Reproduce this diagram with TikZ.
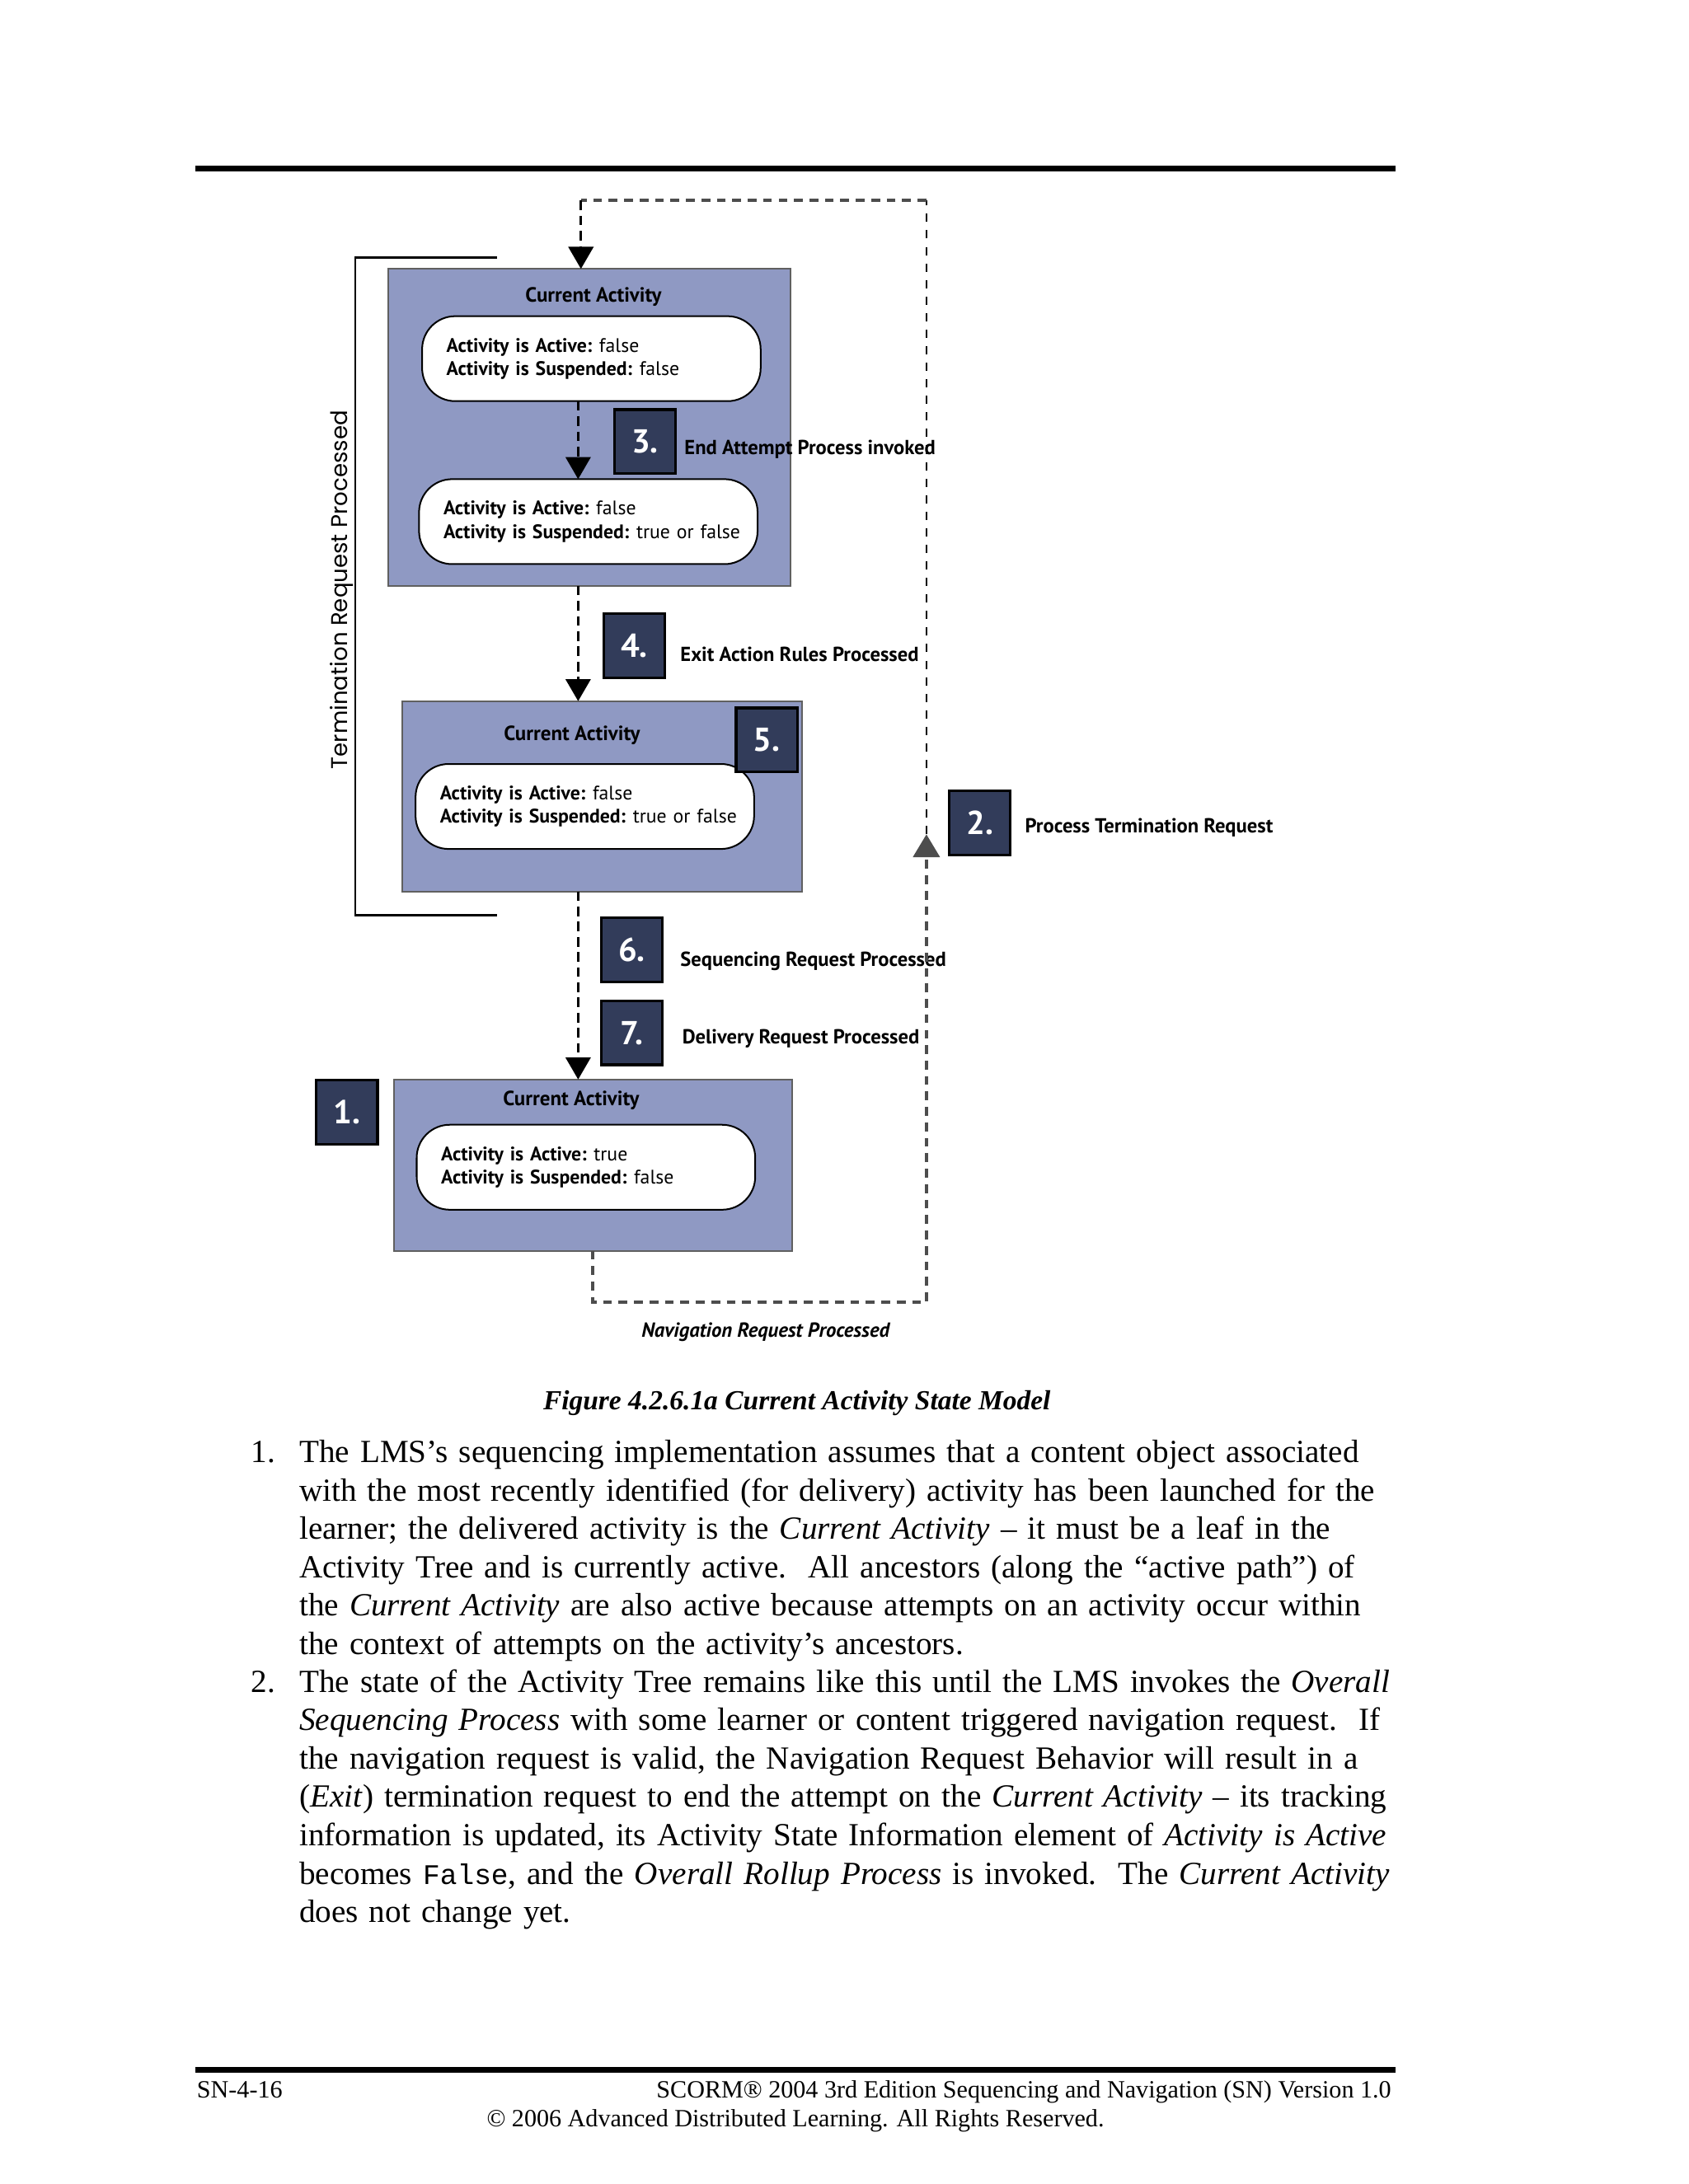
\documentclass[tikz,border=0pt]{standalone}
\usepackage{fontspec}
\setmainfont{Liberation Serif}
\setmonofont{Liberation Mono}
\newfontfamily\schema{PT Sans}
\newfontfamily\geo{Poppins}
\usetikzlibrary{arrows.meta}
\definecolor{fondboite}{HTML}{8F99C3}
\definecolor{marine}{HTML}{323C5A}
\definecolor{gristrait}{HTML}{4D4D4D}
\newcommand{\etat}[2]{\mbox{\textbf{Activity is Active:}\hspace{2.6pt}#1}\\\mbox{\textbf{Activity is Suspended:}\hspace{2.6pt}#2}}

\begin{document}
\begin{tikzpicture}[x=0.505pt,y=-0.505pt]
% Styles
\def\unite{0.505pt}
\tikzstyle{boite}=[draw=gray!75!black,line width=0.6pt,fill=fondboite,inner sep=0,outer sep=0]
\tikzstyle{pilule}=[draw=black,line width=0.6pt,fill=white,rounded corners=12pt,minimum width=243*\unite,minimum height=61*\unite,text width=105pt,inner xsep=8.8pt,inner ysep=0,outer sep=0,align=left,font=\schema\fontsize{7.1}{8.4}\selectfont]
\tikzstyle{titre}=[anchor=base,inner sep=0,font=\schema\bfseries\fontsize{7.45}{8}\selectfont]
\tikzstyle{badge}=[draw=black,line width=1pt,fill=marine,text=white,minimum width=44*\unite,minimum height=46*\unite,inner sep=0,font=\schema\bfseries\fontsize{12}{12}\selectfont]
\tikzstyle{etiquette}=[anchor=base west,inner sep=0,font=\schema\bfseries\fontsize{7.35}{8}\selectfont]
\tikzstyle{pointille}=[dash pattern=on 3.5pt off 2pt,line width=1pt]
\tikzstyle{fleche}=[-{Triangle[width=9pt,length=8pt]}]
\tikzstyle{boucle}=[gristrait,dash pattern=on 3.2pt off 2.4pt,line width=1.2pt]
\tikzstyle{boucleFine}=[dash pattern=on 3pt off 3pt,line width=0.5pt]
\tikzstyle{texte}=[anchor=base west,inner sep=0,text width=410pt,align=left,font=\fontsize{11.7}{13.9}\selectfont]
\tikzstyle{pied}=[inner sep=0,font=\fontsize{9}{11}\selectfont]
% Page
\fill[white] (0,0) rectangle (1212,1568);
\useasboundingbox (0,0) rectangle (1212,1568);
\draw[line width=2.2pt] (140,121) -- (1002,121);
\draw[line width=2.2pt] (140,1486) -- (1002,1486);
% Boites
\node[boite,minimum width=288.5*\unite,minimum height=227.5*\unite] (A) at (423.2,306.8) {};
\node[boite,minimum width=287*\unite,minimum height=136.6*\unite] (B) at (432.5,571.7) {};
\node[boite,minimum width=286*\unite,minimum height=123*\unite] (C) at (425.6,836.5) {};
\node[titre] (tA) at (426,217) {Current Activity};
\node[titre] (tB) at (410.6,531.5) {Current Activity};
\node[titre] (tC) at (410,794) {Current Activity};
% Etats
\node[pilule] (pA1) at (424.5,257.5) {\etat{false}{false}};
\node[pilule] (pA2) at (422.3,374.5) {\etat{false}{true or false}};
\node[pilule] (pB) at (419.8,579) {\etat{false}{true or false}};
\node[pilule] (pC) at (420.6,838) {\etat{true}{false}};
% Accolade
\draw[line width=0.7pt] (356.6,185) -- (255,185) -- (255,657) -- (356.6,657);
\node[rotate=90,inner sep=0,font=\geo\fontsize{8.25}{10}\selectfont] (term) at (245.5,423.5) {Termination Request Processed};
% Etapes
\node[badge] (b1) at (249,798.5) {1.};
\node[badge] (b2) at (703.3,590.8) {2.};
\node[badge] (b3) at (463,317) {3.};
\node[badge] (b4) at (455.3,463.5) {4.};
\node[badge] (b5) at (550.4,531.2) {5.};
\node[badge] (b6) at (453.5,682) {6.};
\node[badge] (b7) at (453.5,741.5) {7.};
\node[etiquette] (e2) at (735.4,597.7) {Process Termination Request};
\node[etiquette] (e3) at (491,326.5) {End Attempt Process invoked};
\node[etiquette] (e4) at (488,475) {Exit Action Rules Processed};
\node[etiquette] (e6) at (488,693.5) {Sequencing Request Processed};
\node[etiquette] (e7) at (489.4,749.5) {Delivery Request Processed};
\node[etiquette,anchor=base,font=\schema\bfseries\itshape\fontsize{7.4}{8}\selectfont] (nav) at (549.5,960) {Navigation Request Processed};
% Fleches
\coordinate (axe) at (415,0);
\coordinate (coinBD) at (665,935);
\coordinate (pointe) at (665,599);
\coordinate (coinHD) at (665,144);
\coordinate (coinHG) at (417,144);
\draw[pointille,fleche] (pA1.south -| axe) -- (pA2.north -| axe);
\draw[pointille,fleche] (A.south -| axe) -- (B.north -| axe);
\draw[pointille,fleche] (B.south -| axe) -- (C.north -| axe);
\draw[boucle,-{Triangle[width=9.6pt,length=8.3pt]}] (C.south) |- (coinBD) -- (pointe);
\draw[boucleFine] (pointe) -- (coinHD);
\draw[boucle] (coinHD) -- (coinHG);
\draw[pointille,fleche] (coinHG) -- (A.north -| coinHG);
% Legende
\node[anchor=base,inner sep=0,font=\bfseries\itshape\fontsize{10}{12}\selectfont] (legende) at (572,1012) {Figure 4.2.6.1a Current Activity State Model};
% Texte
\node[texte,text width=20pt] (n1) at (180,1050) {1.};
\node[texte] (t1) at (214.5,1050) {The LMS’s sequencing implementation assumes that a content object associated\\
with the most recently identified (for delivery) activity has been launched for the\\
learner; the delivered activity is the \textit{Current Activity} – it must be a leaf in the\\
Activity Tree and is currently active.\ \ All ancestors (along the “active path”) of\\
the \textit{Current Activity} are also active because attempts on an activity occur within\\
the context of attempts on the activity’s ancestors.};
\node[texte,text width=20pt] (n2) at (180,1215) {2.};
\node[texte] (t2) at (214.5,1215) {The state of the Activity Tree remains like this until the LMS invokes the \textit{Overall}\\
\textit{Sequencing Process} with some learner or content triggered navigation request.\ \ If\\
the navigation request is valid, the Navigation Request Behavior will result in a\\
(\textit{Exit}) termination request to end the attempt on the \textit{Current Activity} – its tracking\\
information is updated, its Activity State Information element of \textit{Activity is Active}\\
becomes {\ttfamily\fontsize{10.3}{13.9}\selectfont False}, and the \textit{Overall Rollup Process} is invoked.\ \ The \textit{Current Activity}\\
does not change yet.};
% Pied de page
\node[pied,anchor=base west] (page) at (141,1506) {SN-4-16};
\node[pied,anchor=base east] (titrepied) at (999,1506) {SCORM® 2004 3rd Edition Sequencing and Navigation (SN) Version 1.0};
\node[pied,anchor=base] (droits) at (571,1527) {© 2006 Advanced Distributed Learning. All Rights Reserved.};
\end{tikzpicture}
\end{document}
